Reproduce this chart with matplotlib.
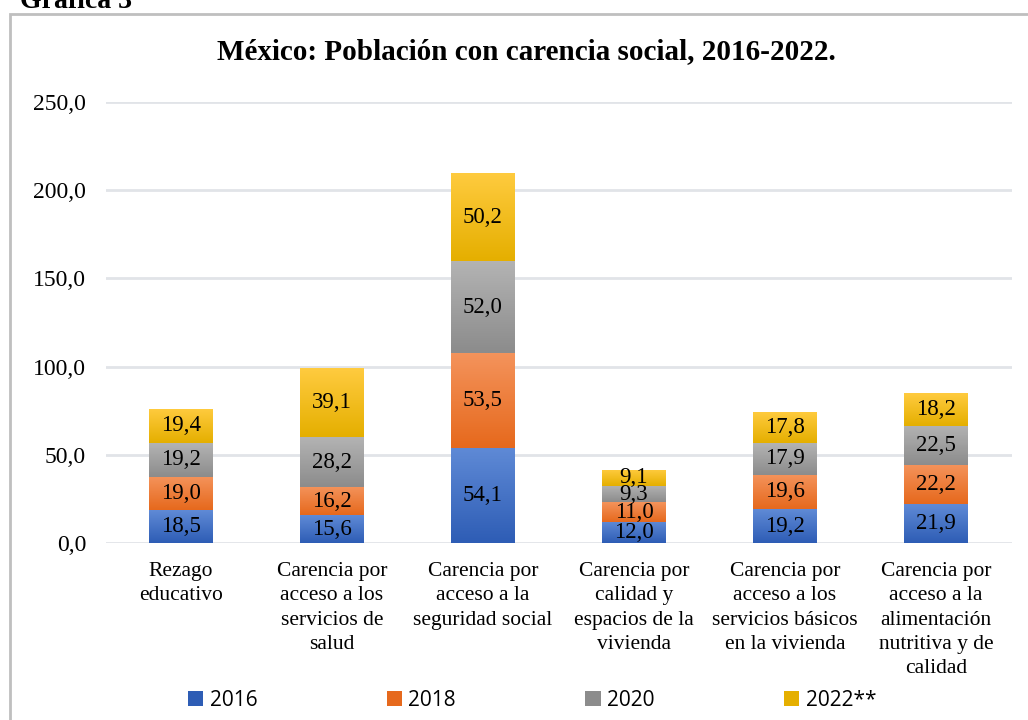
import matplotlib
matplotlib.use("Agg")
import matplotlib.pyplot as plt
from matplotlib.colors import LinearSegmentedColormap
from matplotlib.patches import Rectangle, Patch
import numpy as np

# ── Data ────────────────────────────────────────────────────────────────
categories = [
    "Rezago\neducativo",
    "Carencia por\nacceso a los\nservicios de\nsalud",
    "Carencia por\nacceso a la\nseguridad social",
    "Carencia por\ncalidad y\nespacios de la\nvivienda",
    "Carencia por\nacceso a los\nservicios básicos\nen la vivienda",
    "Carencia por\nacceso a la\nalimentación\nnutritiva y de\ncalidad",
]
years = ["2016", "2018", "2020", "2022**"]
v2016 = [18.5, 15.6, 54.1, 12.0, 19.2, 21.9]
v2018 = [19.0, 16.2, 53.5, 11.0, 19.6, 22.2]
v2020 = [19.2, 28.2, 52.0, 9.3, 17.9, 22.5]
v2022 = [19.4, 39.1, 50.2, 9.1, 17.8, 18.2]
yticks = [0, 50, 100, 150, 200, 250]

series = [v2016, v2018, v2020, v2022]
# (top colour, bottom colour) for the vertical gradient
grad = [("#5F8AD6", "#2E5DB5"),
        ("#F4935B", "#E6691D"),
        ("#B3B3B3", "#8C8C8C"),
        ("#FFCB3F", "#E5AF00")]

SERIF = "Liberation Serif"

fig = plt.figure(figsize=(10.28, 7.2), dpi=100)
W, H = 1028, 720

# outer chart border
fig.add_artist(Rectangle((10 / W, -0.1), 1.2, (H - 14) / H + 0.1,
                         transform=fig.transFigure, fill=False,
                         edgecolor="#BFBFBF", linewidth=2))
fig.text(20 / W, 1 - 8 / H, "Gráfica 3", family=SERIF, fontweight="bold",
         fontsize=20, ha="left", va="baseline")
fig.text(526 / W, 1 - 52 / H, "México: Población con carencia social, 2016-2022.",
         family=SERIF, fontweight="bold", fontsize=21, ha="center", va="center")

ax = fig.add_axes([105.5 / W, 1 - 543 / H, 906 / W, 441 / H])
x = np.arange(len(categories))
width = 0.42
bottom = np.zeros(len(categories))
for vals, (c_top, c_bot), lbl in zip(series, grad, years):
    vals = np.array(vals)
    cmap = LinearSegmentedColormap.from_list(lbl, [c_bot, c_top])
    bars = ax.bar(x, vals, width, bottom=bottom, color=c_top,
                  linewidth=0, zorder=2)
    for b in bars:
        x0, y0 = b.get_x(), b.get_y()
        im = ax.imshow(np.linspace(0, 1, 64).reshape(-1, 1), cmap=cmap,
                       origin="lower", aspect="auto", zorder=3,
                       extent=[x0, x0 + b.get_width(), y0, y0 + b.get_height()])
        im.set_clip_path(b)
    for xi, v, bt in zip(x, vals, bottom):
        ax.text(xi, bt + v / 2, f"{v:.1f}".replace(".", ","), ha="center",
                va="center", family=SERIF, fontsize=16.5, zorder=4)
    bottom += vals

ax.set_xlim(-0.5, len(categories) - 0.5)
ax.set_ylim(0, 250)
ax.set_yticks(yticks)
ax.set_yticklabels([f"{t:.1f}".replace(".", ",") for t in yticks],
                   family=SERIF, fontsize=17)
ax.set_xticks(x)
ax.set_xticklabels(categories, family=SERIF, fontsize=15.5, linespacing=1.36,
                   va="top")
ax.tick_params(length=0, pad=14)
ax.tick_params(axis="y", pad=14)
ax.grid(True, axis="y", color="#E1E4E8", linewidth=2, zorder=0)
ax.set_axisbelow(True)
for s in ax.spines.values():
    s.set_visible(False)

handles = [Patch(facecolor=c_bot, edgecolor="none") for c_top, c_bot in grad]
fig.legend(handles, years, loc="center", bbox_to_anchor=(532 / W, 1 - 700 / H),
           ncol=4, frameon=False, columnspacing=6.2, handlelength=0.75,
           handleheight=0.75, handletextpad=0.3,
           prop={"family": "Open Sans", "size": 15})

fig.savefig("out.png", dpi=100)
